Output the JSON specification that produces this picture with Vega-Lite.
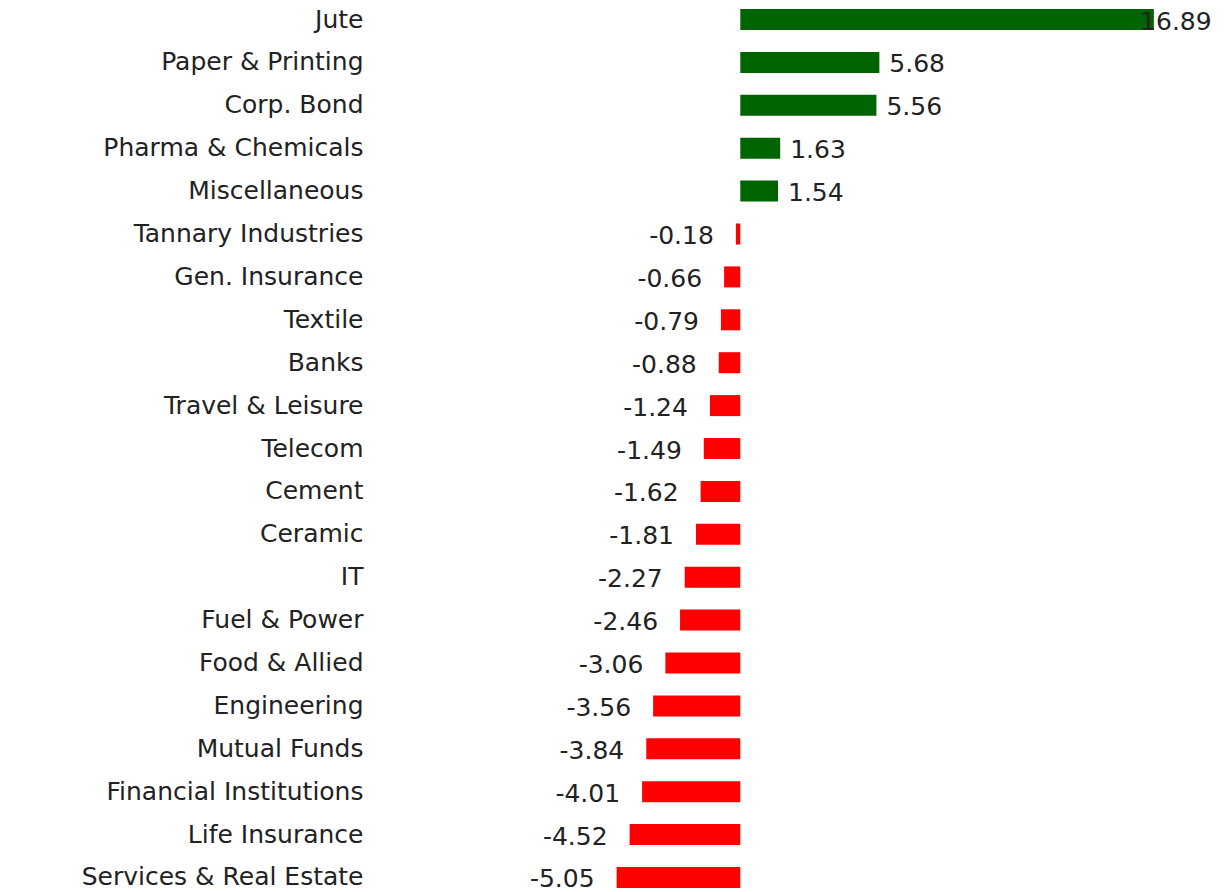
{
  "$schema": "https://vega.github.io/schema/vega-lite/v6.json",
  "width": 857,
  "height": 897,
  "autosize": "none",
  "padding": {"left": 373, "top": 0, "right": 0, "bottom": 0},
  "background": "white",
  "config": {
    "view": {"stroke": null},
    "locale": {
      "number": {
        "decimal": ".",
        "thousands": ",",
        "grouping": [3],
        "currency": ["$", ""],
        "minus": "-"
      }
    }
  },
  "data": {
    "values": [
      {"sector": "Jute", "value": 16.89},
      {"sector": "Paper & Printing", "value": 5.68},
      {"sector": "Corp. Bond", "value": 5.56},
      {"sector": "Pharma & Chemicals", "value": 1.63},
      {"sector": "Miscellaneous", "value": 1.54},
      {"sector": "Tannary Industries", "value": -0.18},
      {"sector": "Gen. Insurance", "value": -0.66},
      {"sector": "Textile", "value": -0.79},
      {"sector": "Banks", "value": -0.88},
      {"sector": "Travel & Leisure", "value": -1.24},
      {"sector": "Telecom", "value": -1.49},
      {"sector": "Cement", "value": -1.62},
      {"sector": "Ceramic", "value": -1.81},
      {"sector": "IT", "value": -2.27},
      {"sector": "Fuel & Power", "value": -2.46},
      {"sector": "Food & Allied", "value": -3.06},
      {"sector": "Engineering", "value": -3.56},
      {"sector": "Mutual Funds", "value": -3.84},
      {"sector": "Financial Institutions", "value": -4.01},
      {"sector": "Life Insurance", "value": -4.52},
      {"sector": "Services & Real Estate", "value": -5.05}
    ]
  },
  "encoding": {
    "y": {
      "field": "sector",
      "type": "nominal",
      "sort": null,
      "scale": {"paddingInner": 0.51, "paddingOuter": 0.21},
      "axis": {
        "title": null,
        "domain": false,
        "ticks": false,
        "grid": false,
        "labelFont": "DejaVu Sans",
        "labelFontSize": 25,
        "labelColor": "#222222",
        "labelPadding": 10,
        "labelLimit": 0
      }
    },
    "x": {
      "field": "value",
      "type": "quantitative",
      "scale": {"domain": [-15, 20], "nice": false, "zero": true},
      "axis": null
    }
  },
  "layer": [
    {
      "mark": {"type": "bar"},
      "encoding": {
        "color": {
          "condition": {"test": "datum.value >= 0", "value": "#006400"},
          "value": "#ff0000"
        }
      }
    },
    {
      "transform": [{"filter": "datum.value >= 0 && datum.value < 10"}],
      "mark": {"type": "text", "align": "left", "baseline": "middle", "dx": 10, "dy": 2, "font": "DejaVu Sans", "fontSize": 25, "color": "#222222"},
      "encoding": {"text": {"field": "value", "type": "quantitative", "format": ".2f"}}
    },
    {
      "transform": [{"filter": "datum.value >= 10"}],
      "mark": {"type": "text", "align": "center", "baseline": "middle", "dx": 22, "dy": 2, "font": "DejaVu Sans", "fontSize": 25, "color": "#222222"},
      "encoding": {"text": {"field": "value", "type": "quantitative", "format": ".2f"}}
    },
    {
      "transform": [{"filter": "datum.value < 0"}],
      "mark": {"type": "text", "align": "right", "baseline": "middle", "dx": -22, "dy": 2, "font": "DejaVu Sans", "fontSize": 25, "color": "#222222"},
      "encoding": {"text": {"field": "value", "type": "quantitative", "format": ".2f"}}
    }
  ]
}
